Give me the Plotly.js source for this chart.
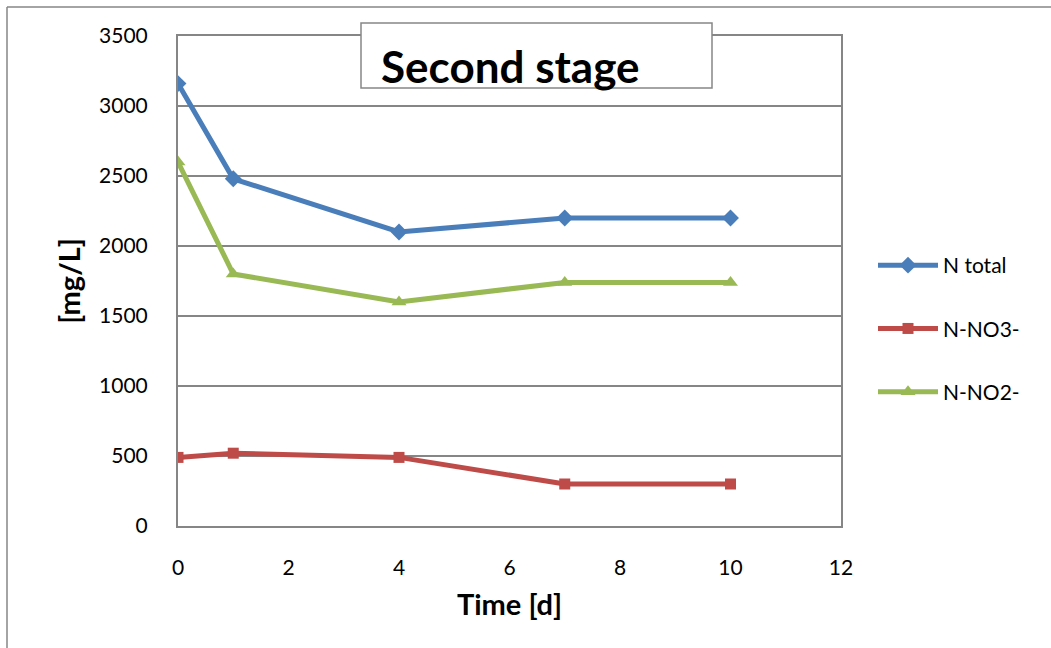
<!DOCTYPE html>
<html>
<head>
<meta charset="utf-8">
<script src="https://cdn.plot.ly/plotly-3.0.1.min.js"></script>
<style>
  html, body { margin: 0; padding: 0; background: #fff; }
  #chart { width: 1051px; height: 648px; }
</style>
</head>
<body>
<div id="chart"></div>
<script>
// Nitrogen species over time during the second stage
const days = [0, 1, 4, 7, 10];
const nTotal = [3160, 2480, 2100, 2200, 2200];
const nNO3 = [490, 520, 490, 300, 300];
const nNO2 = [2600, 1800, 1600, 1740, 1740];
const seriesNames = ['N total', 'N-NO3-', 'N-NO2-'];
const xTicks = [0, 2, 4, 6, 8, 10, 12];
const yTicks = [0, 500, 1000, 1500, 2000, 2500, 3000, 3500];

const FONT = 'Lato, "Open Sans", sans-serif';
const GRID = '#868686';

// plot area in pixels
const L = 178, R = 841, T = 36, B = 526;
const W = 1051, H = 648;
const px = x => (x - L) / (R - L);
const py = y => (B - y) / (B - T);

function line(name, y, color, symbol, group) {
  return {
    x: days, y: y, name: name, type: 'scatter', mode: 'lines+markers',
    legendgroup: group,
    line: { color: color, width: 5 },
    marker: { symbol: symbol, size: symbol === 'square' ? 11 : 13, color: color }
  };
}

const traces = [
  line(seriesNames[0], nTotal, '#4A7EBB', 'diamond', 'a'),
  line(seriesNames[1], nNO3, '#BE4B48', 'square', 'b'),
  line(seriesNames[2], nNO2, '#98B954', 'triangle-up', 'c')
];

const layout = {
  width: W, height: H,
  margin: { l: L, r: W - R, t: T, b: H - B, pad: 0 },
  paper_bgcolor: '#fff', plot_bgcolor: '#fff',
  font: { family: FONT, size: 21, color: '#000' },
  showlegend: true,
  legend: {
    x: px(873), y: py(245), xanchor: 'left', yanchor: 'top',
    font: { family: FONT, size: 21, color: '#000' },
    tracegroupgap: 33, itemwidth: 60,
    bgcolor: 'rgba(0,0,0,0)'
  },
  xaxis: {
    range: [0, 12], tickvals: xTicks, ticktext: xTicks.map(String),
    showgrid: false, zeroline: false,
    showline: true, linecolor: GRID, linewidth: 2, mirror: true,
    ticks: 'outside', ticklen: 22, tickcolor: 'rgba(0,0,0,0)',
    tickfont: { family: FONT, size: 21 },
    title: { text: 'Time [d]', font: { family: FONT, size: 29, weight: 'bold' }, standoff: 16 }
  },
  yaxis: {
    range: [0, 3500], tickvals: yTicks, ticktext: yTicks.map(String),
    showgrid: true, gridcolor: GRID, gridwidth: 1.5, zeroline: false,
    showline: true, linecolor: GRID, linewidth: 2, mirror: true,
    ticks: 'outside', ticklen: 24, tickcolor: 'rgba(0,0,0,0)',
    tickfont: { family: FONT, size: 21 },
    title: { text: '[mg/L]', font: { family: FONT, size: 29, weight: 'bold' }, standoff: 10 }
  },
  shapes: [
    // outer chart frame (left and top edges)
    { type: 'line', xref: 'paper', yref: 'paper', x0: px(7), x1: px(7), y0: py(7), y1: py(H + 5),
      line: { color: GRID, width: 1.5 } },
    { type: 'line', xref: 'paper', yref: 'paper', x0: px(7), x1: px(W + 5), y0: py(7), y1: py(7),
      line: { color: GRID, width: 1.5 } },
    // title box
    { type: 'rect', xref: 'paper', yref: 'paper', layer: 'above',
      x0: px(361), x1: px(712), y0: py(88), y1: py(23),
      fillcolor: '#fff', line: { color: GRID, width: 1.5 } }
  ],
  annotations: [
    { text: 'Second stage', xref: 'paper', yref: 'paper', x: px(379), y: py(66),
      xanchor: 'left', yanchor: 'middle', showarrow: false,
      font: { family: FONT, size: 44, weight: 'bold', color: '#000' } }
  ]
};

Plotly.newPlot('chart', traces, layout, { displayModeBar: false, staticPlot: true });
</script>
</body>
</html>
